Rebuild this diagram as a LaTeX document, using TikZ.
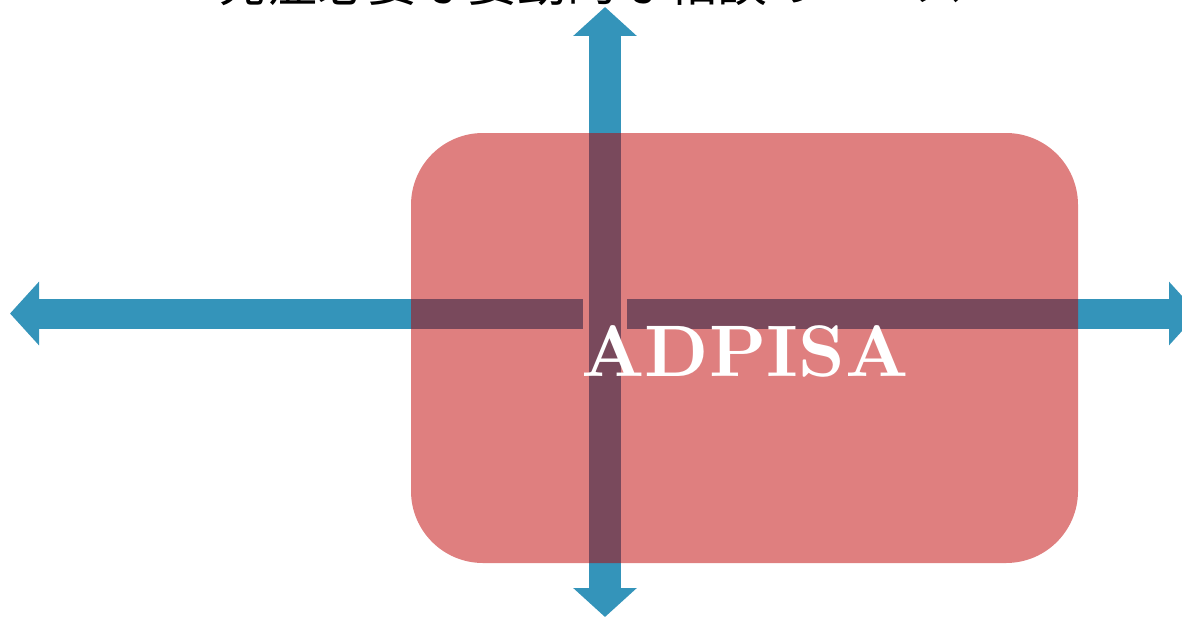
\documentclass[tikz,border=0pt]{standalone}
\usepackage{fontspec}
\newfontfamily\cjk{Noto Sans CJK JP}
\newfontfamily\lmbx{lmroman10-bold.otf}
\usetikzlibrary{arrows.meta}
\definecolor{arrowblue}{RGB}{52,148,186}
\begin{document}
\begin{tikzpicture}[x=1pt,y=-1pt,
  twoway/.style={line width=30pt,draw=arrowblue,
    {Triangle[length=29pt,width=62pt]}-{Triangle[length=29pt,width=62pt]}},
  boxstyle/.style={fill=red!75!black,fill opacity=0.5,rounded corners=72pt},
  title/.style={font=\cjk\fontsize{50}{50}\selectfont,text=black,inner sep=0pt}]
\useasboundingbox (0,0) rectangle (1182,618);
\clip (0,0) rectangle (1182,618);
% title (cut off at top)
\node[title,anchor=base] (title) at (591,2) {発症必要な要動的な相談のベース};
% coordinates
\coordinate (left) at (10,313.5);
\coordinate (right) at (1198,313.5);
\coordinate (top) at (605,7);
\coordinate (bottom) at (605,617);
% horizontal arrow
\draw[twoway] (left) -- (right);
% white border around vertical shaft
\draw[white,line width=44pt] (605,40) -- (605,586);
% vertical arrow
\draw[twoway,line width=32pt] (top) -- (bottom);
% red box
\path[boxstyle] (411,133) rectangle (1078,563);
\node[text=white,font={\lmbx\fontsize{73}{73}\selectfont},inner sep=0pt] (label) at (745,351) {ADPISA};
\end{tikzpicture}
\end{document}
